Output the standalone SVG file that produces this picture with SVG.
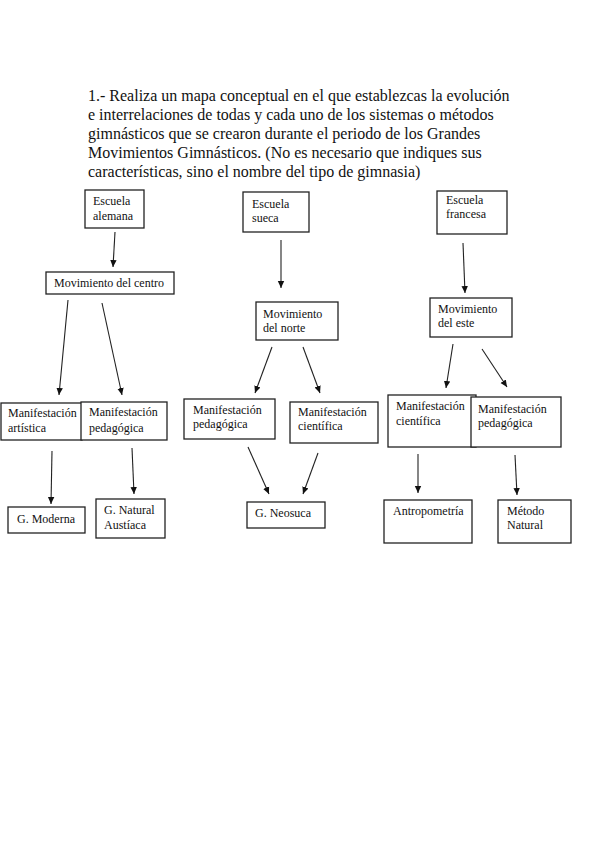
<svg xmlns="http://www.w3.org/2000/svg" width="599" height="848" viewBox="0 0 599 848">
<defs>
<marker id="ah" markerWidth="8" markerHeight="8" refX="7" refY="4" orient="auto" markerUnits="userSpaceOnUse">
<path d="M0,0.8 L7,4 L0,7.2 Z" fill="#111"/>
</marker>
</defs>
<style>
.box{fill:#fff;stroke:#222;stroke-width:1.3}
.t{font-family:"Liberation Serif","Times New Roman",serif;font-size:12px;fill:#111}
.title{font-family:"Liberation Serif","Times New Roman",serif;font-size:16px;fill:#111}
.c line{stroke:#222;stroke-width:1.1;marker-end:url(#ah)}
</style>
<rect width="599" height="848" fill="#fff"/>
<g id="title" class="title">
<text x="88" y="101">1.- Realiza un mapa conceptual en el que establezcas la evolución</text>
<text x="88" y="120">e interrelaciones de todas y cada uno de los sistemas o métodos</text>
<text x="88" y="139">gimnásticos que se crearon durante el periodo de los Grandes</text>
<text x="88" y="158">Movimientos Gimnásticos. (No es necesario que indiques sus</text>
<text x="88" y="177">características, sino el nombre del tipo de gimnasia)</text>
</g>
<g class="c" id="connectors">
<line x1="115" y1="232" x2="113" y2="267"/>
<line x1="68" y1="300" x2="59" y2="395"/>
<line x1="102" y1="303" x2="122" y2="395"/>
<line x1="52" y1="451" x2="51" y2="504"/>
<line x1="132" y1="448" x2="134" y2="494"/>
<line x1="281" y1="240" x2="281" y2="288"/>
<line x1="272" y1="347" x2="255" y2="393"/>
<line x1="303" y1="347" x2="320" y2="393"/>
<line x1="248" y1="447" x2="269" y2="494"/>
<line x1="318" y1="453" x2="303" y2="494"/>
<line x1="463" y1="243" x2="465" y2="293"/>
<line x1="453" y1="344" x2="446" y2="388"/>
<line x1="482" y1="349" x2="507" y2="387"/>
<line x1="418" y1="454" x2="418" y2="493"/>
<line x1="515" y1="455" x2="517" y2="495"/>
</g>
<g id="escuela-alemana"><rect class="box" x="85" y="190" width="59" height="38"/><text class="t" x="93" y="205">Escuela</text><text class="t" x="93" y="220">alemana</text></g>
<g id="mov-centro"><rect class="box" x="46" y="272" width="128" height="22"/><text class="t" x="54" y="287">Movimiento del centro</text></g>
<g id="manif-artistica"><rect class="box" x="1" y="403" width="81" height="37"/><text class="t" x="8" y="417">Manifestación</text><text class="t" x="8" y="432">artística</text></g>
<g id="manif-pedagogica-1"><rect class="box" x="81" y="402" width="86" height="38"/><text class="t" x="89" y="416">Manifestación</text><text class="t" x="89" y="432">pedagógica</text></g>
<g id="g-moderna"><rect class="box" x="8" y="507" width="77" height="26"/><text class="t" x="17" y="523">G. Moderna</text></g>
<g id="g-natural"><rect class="box" x="96" y="499" width="69" height="39"/><text class="t" x="104" y="514">G. Natural</text><text class="t" x="104" y="529">Austíaca</text></g>
<g id="escuela-sueca"><rect class="box" x="243" y="192" width="66" height="40"/><text class="t" x="252" y="208">Escuela</text><text class="t" x="252" y="222">sueca</text></g>
<g id="mov-norte"><rect class="box" x="256" y="302" width="82" height="38"/><text class="t" x="263" y="318">Movimiento</text><text class="t" x="263" y="332">del norte</text></g>
<g id="manif-pedagogica-2"><rect class="box" x="184" y="399" width="91" height="40"/><text class="t" x="193" y="414">Manifestación</text><text class="t" x="193" y="428">pedagógica</text></g>
<g id="manif-cientifica-1"><rect class="box" x="290" y="402" width="88" height="41"/><text class="t" x="298" y="416">Manifestación</text><text class="t" x="298" y="430">científica</text></g>
<g id="g-neosuca"><rect class="box" x="247" y="502" width="78" height="26"/><text class="t" x="255" y="517">G. Neosuca</text></g>
<g id="escuela-francesa"><rect class="box" x="437" y="191" width="70" height="43"/><text class="t" x="446" y="204">Escuela</text><text class="t" x="446" y="218">francesa</text></g>
<g id="mov-este"><rect class="box" x="430" y="298" width="82" height="39"/><text class="t" x="438" y="313">Movimiento</text><text class="t" x="438" y="327">del este</text></g>
<g id="manif-cientifica-2"><rect class="box" x="388" y="395" width="88" height="52"/><text class="t" x="396" y="410">Manifestación</text><text class="t" x="396" y="425">científica</text></g>
<g id="manif-pedagogica-3"><rect class="box" x="471" y="397" width="90" height="50"/><text class="t" x="478" y="413">Manifestación</text><text class="t" x="478" y="427">pedagógica</text></g>
<g id="antropometria"><rect class="box" x="384" y="500" width="88" height="43"/><text class="t" x="393" y="515">Antropometría</text></g>
<g id="metodo-natural"><rect class="box" x="498" y="500" width="73" height="43"/><text class="t" x="507" y="515">Método</text><text class="t" x="507" y="529">Natural</text></g>
</svg>
